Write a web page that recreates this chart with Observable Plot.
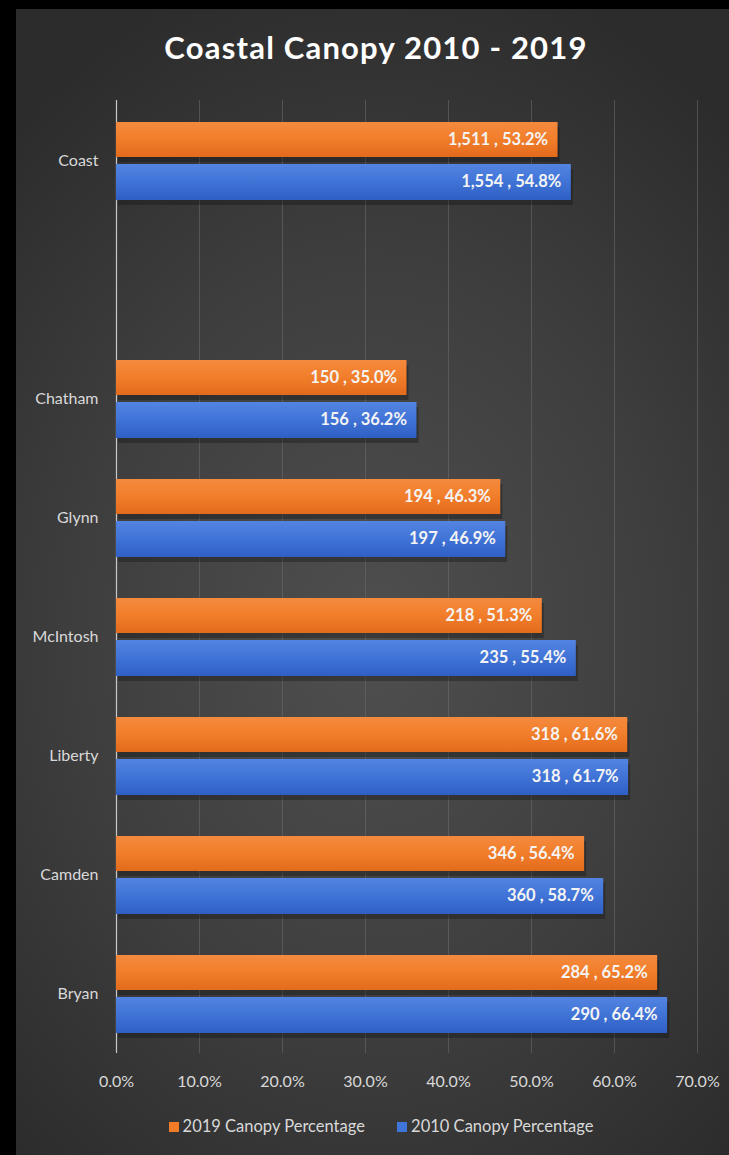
<!DOCTYPE html>
<html>
<head>
<meta charset="utf-8">
<script src="https://cdn.jsdelivr.net/npm/d3@7"></script>
<script src="https://cdn.jsdelivr.net/npm/@observablehq/plot@0.6"></script>
<style>
  html, body { margin: 0; padding: 0; background: #000; width: 729px; height: 1155px; overflow: hidden; }
  #panel {
    position: absolute; left: 16px; top: 9px; width: 713px; height: 1146px;
    background: radial-gradient(ellipse 75% 60% at 50% 55%, #4f4f4f 0%, #3e3e3e 55%, #2c2c2c 100%);
  }
  #title {
    position: absolute; left: 0; top: 28px; width: 752px; text-align: center;
    font-family: Lato, "Open Sans", sans-serif; font-weight: 700; font-size: 31px;
    color: #ffffff; letter-spacing: 1.2px;
  }
  #chart { position: absolute; left: 0; top: 0; }
  #legend {
    position: absolute; left: 0; top: 1116px; width: 762px; text-align: center;
    font-family: Lato, "Open Sans", sans-serif; font-size: 16.5px; color: #d9d9d9;
  }
  #legend span.item { display: inline-block; margin: 0 14px; }
  #legend span.sw { display: inline-block; width: 10px; height: 10px; margin-right: 4px; vertical-align: 0px; }
</style>
</head>
<body>
<div id="panel"></div>
<div id="title">Coastal Canopy 2010 - 2019</div>
<div id="chart"></div>
<div id="legend">
  <span class="item"><span class="sw" style="background:#f07c28"></span>2019 Canopy Percentage</span>
  <span class="item"><span class="sw" style="background:#3f74da"></span>2010 Canopy Percentage</span>
</div>
<script>
// ---- data ----
const counties = ["Coast", "", "Chatham", "Glynn", "McIntosh", "Liberty", "Camden", "Bryan"];
const barCounties = ["Coast", "Chatham", "Glynn", "McIntosh", "Liberty", "Camden", "Bryan"];
const count2019 = [1511, 150, 194, 218, 318, 346, 284];
const pct2019 = [53.2, 35.0, 46.3, 51.3, 61.6, 56.4, 65.2];
const count2010 = [1554, 156, 197, 235, 318, 360, 290];
const pct2010 = [54.8, 36.2, 46.9, 55.4, 61.7, 58.7, 66.4];
const xTicks = [0, 10, 20, 30, 40, 50, 60, 70];

const rows2019 = barCounties.map((c, i) => ({county: c, count: count2019[i], pct: pct2019[i]}));
const rows2010 = barCounties.map((c, i) => ({county: c, count: count2010[i], pct: pct2010[i]}));
const fmtCount = d3.format(",");
const label = d => `${fmtCount(d.count)} , ${d.pct.toFixed(1)}%`;

const W = 729, H = 1100;
const font = 'Lato, "Open Sans", sans-serif';

const chart = Plot.plot({
  width: W, height: H,
  marginLeft: 116, marginRight: 32, marginTop: 100, marginBottom: 47,
  style: {background: "transparent", color: "#d9d9d9", fontFamily: font, fontSize: "16px", overflow: "visible"},
  x: {domain: [0, 70], ticks: xTicks, tickFormat: d => d.toFixed(1) + "%", label: null},
  y: {domain: counties, padding: 0, label: null},
  marks: [
    Plot.gridX(xTicks.filter(d => d > 0), {stroke: "#6e6e6e", strokeOpacity: 0.55}),
    Plot.ruleX([0], {stroke: "#c8c8c8", strokeWidth: 1.2, strokeOpacity: 1}),
    Plot.axisX({ticks: xTicks, tickSize: 0, tickPadding: 22, tickFormat: d => d.toFixed(1) + "%", fill: "#d9d9d9", fontSize: 16, label: null}),
    Plot.axisY({tickSize: 0, tickPadding: 18, fill: "#d9d9d9", fontSize: 16, label: null}),
    // shadows
    Plot.barX(rows2019, {x: "pct", y: "county", fill: "#111", fillOpacity: 0.35, insetTop: 24, insetBottom: 60, dx: 2, dy: 2}),
    Plot.barX(rows2010, {x: "pct", y: "county", fill: "#111", fillOpacity: 0.35, insetTop: 66, insetBottom: 17, dx: 2, dy: 2}),
    Plot.barX(rows2019, {x: "pct", y: "county", fill: "url(#gOrange)", insetTop: 21, insetBottom: 63}),
    Plot.barX(rows2010, {x: "pct", y: "county", fill: "url(#gBlue)", insetTop: 63, insetBottom: 20}),
    Plot.text(rows2019, {x: "pct", y: "county", text: label, dx: -10, dy: -21.5, textAnchor: "end", fill: "#f4f4f4", fontWeight: 700, fontSize: 16.5}),
    Plot.text(rows2010, {x: "pct", y: "county", text: label, dx: -10, dy: 21, textAnchor: "end", fill: "#f4f4f4", fontWeight: 700, fontSize: 16.5})
  ]
});

// gradients for bars
const svg = d3.select(chart);
const defs = svg.insert("defs", ":first-child");
const gO = defs.append("linearGradient").attr("id", "gOrange").attr("x1", 0).attr("y1", 0).attr("x2", 0).attr("y2", 1);
gO.append("stop").attr("offset", "0%").attr("stop-color", "#f48a3e");
gO.append("stop").attr("offset", "45%").attr("stop-color", "#f27f2c");
gO.append("stop").attr("offset", "100%").attr("stop-color", "#e36b1c");
const gB = defs.append("linearGradient").attr("id", "gBlue").attr("x1", 0).attr("y1", 0).attr("x2", 0).attr("y2", 1);
gB.append("stop").attr("offset", "0%").attr("stop-color", "#5384e2");
gB.append("stop").attr("offset", "45%").attr("stop-color", "#4275d8");
gB.append("stop").attr("offset", "100%").attr("stop-color", "#2f5fc4");

document.getElementById("chart").appendChild(chart);
</script>
</body>
</html>
